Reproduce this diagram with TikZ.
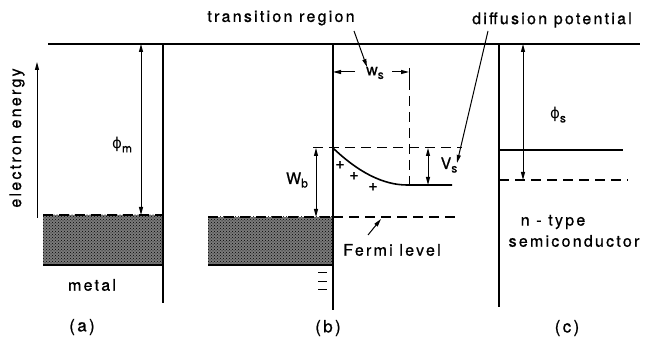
\documentclass[tikz,border=0pt]{standalone}
\usepackage{fontspec}
\setsansfont{TeX Gyre Heros}[LetterSpace=14, FakeBold=0.8]
\newfontfamily\greekfont{DejaVu Sans}[LetterSpace=0]
\usetikzlibrary{patterns,arrows.meta}
\begin{document}
\begin{tikzpicture}[x=1pt,y=-1pt,
  every node/.style={font=\sffamily\fontsize{16}{18}\selectfont, inner sep=0pt},
  panel/.style={font=\sffamily\fontsize{17}{19}\selectfont},
  level/.style={line width=1.3pt},
  dashlevel/.style={line width=1.3pt, dash pattern=on 10pt off 6pt},
  tip/.style={-{Triangle[length=8pt,width=4pt]}, line width=1pt},
  dtip/.style={{Triangle[length=8pt,width=4pt]}-{Triangle[length=8pt,width=4pt]}, line width=1pt},
  bandfill/.style={fill=black!52},
  band/.style={pattern=crosshatch dots, pattern color=black}]
\newcommand{\sbs}[1]{\raisebox{-3.5pt}{\fontsize{12}{13}\selectfont #1}}
\newcommand{\phig}{{\greekfont\fontsize{15}{17}\selectfont ϕ}}
\useasboundingbox (0,0) rectangle (654,344);
% coordinates
\coordinate (TL) at (48,44); \coordinate (TR) at (640,44);
% ---------- (a)
\coordinate (a0) at (163,44); \coordinate (a1) at (163,303);
\fill[bandfill] (43,215) rectangle (163,265);
\fill[band] (43,215) rectangle (163,265);
\draw[level] (TL) -- (TR);
\draw[level] (a0) -- (a1);
\draw[dashlevel] (43,215) -- (163,215);
\draw[level] (43,265) -- (163,265);
\coordinate (pm0) at (141,44); \coordinate (pm1) at (141,215);
\draw[dtip] (pm0) -- (pm1);
\node (phim) at (122,145) {\phig\sbs{m}};
\coordinate (ee0) at (37,218); \coordinate (ee1) at (37,62);
\draw[tip] (ee0) -- (ee1);
\node[rotate=90] (ee) at (17,138) {electron energy};
\node (metal) at (92,285) {metal};
\node[panel] (la) at (82,327) {(a)};
% ---------- (b)
\coordinate (b0) at (333,44); \coordinate (b1) at (333,310);
\fill[bandfill] (208,217) rectangle (333,265);
\fill[band] (208,217) rectangle (333,265);
\draw[level] (b0) -- (b1);
\draw[dashlevel] (208,217) -- (333,217);
\draw[level] (208,265) -- (333,265);
\draw[dashlevel] (333,217) -- (458,217);
\draw[line width=1pt, dash pattern=on 10pt off 6pt] (313,148) -- (462,148);
\coordinate (c0) at (333,148); \coordinate (c1) at (407,185); \coordinate (c2) at (452,185);
\draw[line width=1.6pt] (c0) .. controls (358,172) and (383,185) .. (c1) -- (c2);
\coordinate (vd0) at (409,68); \coordinate (vd1) at (409,80); \coordinate (vd2) at (409,192);
\draw[line width=1pt] (vd0) -- (vd1);
\draw[line width=1pt, dash pattern=on 10pt off 6pt] (vd1) -- (vd2);
\node (ws) at (375,73) {w\sbs{s}};
\coordinate (wsl) at (333,72); \coordinate (wsr) at (409,72);
\coordinate (wsl0) at (355,72); \coordinate (wsr0) at (392,72);
\draw[tip] (wsl0) -- (wsl);
\draw[tip] (wsr0) -- (wsr);
\coordinate (wb0) at (316,148); \coordinate (wb1) at (316,217);
\draw[dtip] (wb0) -- (wb1);
\node (wb) at (297,180) {W\sbs{b}};
\coordinate (vs0) at (428,148); \coordinate (vs1) at (428,185);
\draw[dtip] (vs0) -- (vs1);
\node (vs) at (449,165) {V\sbs{s}};
\node (p1) at (340,165) {+};
\node (p2) at (354,176) {+};
\node (p3) at (373,187) {+};
\draw[line width=1pt] (318,273) -- (327,273) (318,282) -- (327,282) (318,290) -- (327,290);
\node (fermi) at (392,250) {Fermi level};
\coordinate (fa) at (381,219); \coordinate (fa0) at (368,235);
\draw[tip] (fa0) -- (fa);
\node (tr) at (281,18) {transition region};
\coordinate (tra) at (367,67); \coordinate (tra0) at (354,31);
\draw[tip] (tra0) -- (tra);
\node (dp) at (552,20) {diffusion potential};
\coordinate (dpa) at (457,163); \coordinate (dpa0) at (488,31);
\draw[tip] (dpa0) -- (dpa);
\node[panel] (lb) at (328,328) {(b)};
% ---------- (c)
\coordinate (s0) at (499,44); \coordinate (s1) at (499,307);
\draw[level] (s0) -- (s1);
\coordinate (ps0) at (523,44); \coordinate (ps1) at (523,180);
\draw[dtip] (ps0) -- (ps1);
\draw[level] (499,150) -- (623,150);
\draw[dashlevel] (499,180) -- (628,180);
\node (phis) at (558,115) {\phig\sbs{s}};
\node (nt) at (553,222) {n - type};
\node (sc) at (574,241) {semiconductor};
\node[panel] (lc) at (567,328) {(c)};
\end{tikzpicture}
\end{document}
